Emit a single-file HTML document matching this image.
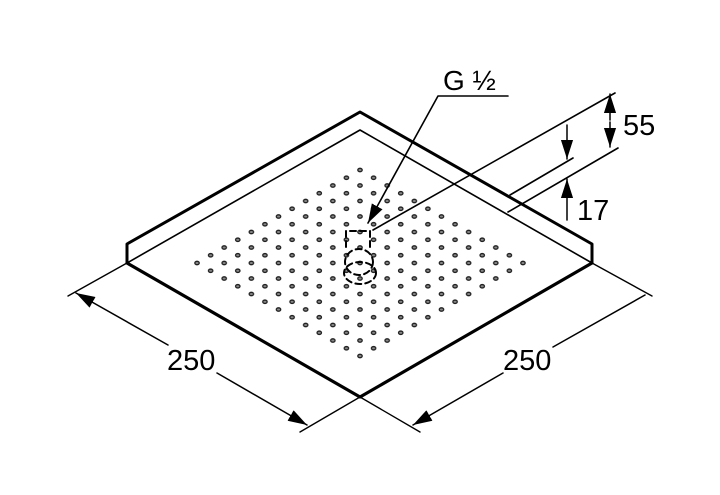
<!DOCTYPE html>
<html><head><meta charset="utf-8"><style>html,body{margin:0;padding:0;background:#fff}svg{display:block}</style></head>
<body>
<svg width="720" height="495" viewBox="0 0 720 495" xmlns="http://www.w3.org/2000/svg" font-family="Liberation Sans, sans-serif">
<defs>
<marker id="ar" viewBox="0 0 10 10" refX="10" refY="5" markerWidth="19" markerHeight="19" markerUnits="userSpaceOnUse" orient="auto"><path d="M0,1.8 L10,5 L0,8.2z" fill="#000"/></marker>
<pattern id="dp" patternUnits="userSpaceOnUse" x="360" y="170" width="27.16" height="15.5">
<g fill="#888" stroke="#222" stroke-width="1.3">
<ellipse cx="0" cy="0" rx="2.2" ry="1.7"/><ellipse cx="27.16" cy="0" rx="2.2" ry="1.7"/>
<ellipse cx="0" cy="15.5" rx="2.2" ry="1.7"/><ellipse cx="27.16" cy="15.5" rx="2.2" ry="1.7"/>
<ellipse cx="13.58" cy="7.75" rx="2.2" ry="1.7"/>
</g>
</pattern>
</defs>
<polygon points="360,164 530,263 360,362 190,263" fill="url(#dp)"/>
<g stroke="#000" fill="none" stroke-linecap="round" stroke-linejoin="round">
<path d="M127,263 V244 L360,112 L592,244 V263" stroke-width="3"/>
<path d="M127,263 L360,397 L592,263" stroke-width="3.2"/>
<path d="M127,263 L360,130 L592,263" stroke-width="1.6"/>
<path d="M127,263 L68,296 M360,397 L300,432 M360,397 L420,432 M592,263 L652,296" stroke-width="1.4"/>
<path d="M373,230 L615,93 M508,212 L618,148 M510,195 L573,158" stroke-width="1.6"/>
<path d="M168,345 L76,293" stroke-width="1.5" marker-end="url(#ar)"/>
<path d="M217,373 L307,425" stroke-width="1.5" marker-end="url(#ar)"/>
<path d="M503,373 L413,425" stroke-width="1.5" marker-end="url(#ar)"/>
<path d="M553,347 L645,295" stroke-width="1.5"/>
<path d="M610,120 L610,94" stroke-width="1.5" marker-end="url(#ar)"/>
<path d="M610,122 L610,147" stroke-width="1.5" marker-end="url(#ar)"/>
<path d="M567,125 L567,159" stroke-width="1.5" marker-end="url(#ar)"/>
<path d="M567,220 L567,179" stroke-width="1.5" marker-end="url(#ar)"/>
<path d="M508,96 L438,96 L368,223" stroke-width="1.6" marker-end="url(#ar)"/>
<g stroke-width="2" stroke-dasharray="6,4">
<path d="M346,247 V231 H370 V247"/>
<ellipse cx="359" cy="262" rx="14" ry="13"/>
<ellipse cx="360" cy="273" rx="16" ry="11"/>
</g>
</g>
<g font-size="29" fill="#000">
<text x="167" y="370">250</text>
<text x="503" y="370">250</text>
<text x="623" y="135">55</text>
<text x="577" y="220">17</text>
<text x="443" y="90" font-size="28">G ½</text>
</g>
</svg>
</body></html>
